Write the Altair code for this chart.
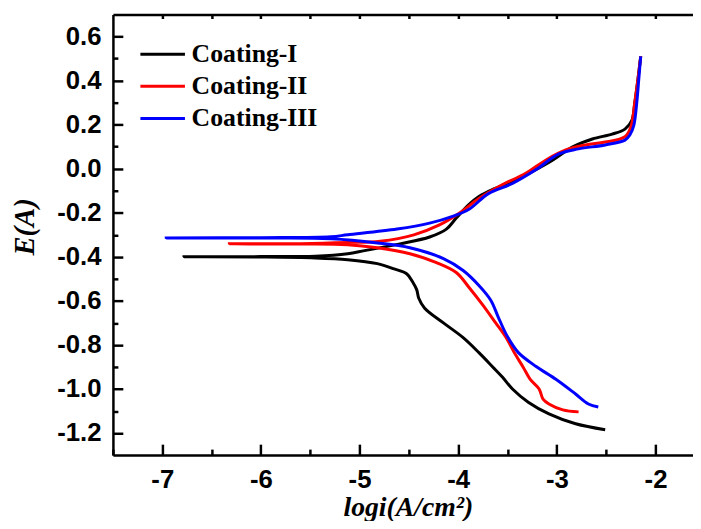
import altair as alt
import pandas as pd

coatings = ["Coating-I", "Coating-II", "Coating-III"]
colors = ["#000000", "#ff0000", "#0000ff"]

# log i values (cathodic end -> corrosion point -> anodic end)
c1_x = [-2.51, -2.81, -3.08, -3.29, -3.45, -3.55, -3.65, -3.79, -3.95, -4.15, -4.34, -4.40, -4.42, -4.46, -4.52, -4.65, -4.82, -5.12, -5.45, -6.0, -6.78,
        -6.0, -5.45, -5.12, -4.95, -4.59, -4.29, -4.12, -4.02, -3.89, -3.79, -3.65, -3.45, -3.25, -3.04, -2.84, -2.64, -2.44, -2.31, -2.24, -2.21, -2.18, -2.15]
c1_y = [-1.185, -1.158, -1.113, -1.06, -1.00, -0.947, -0.90, -0.835, -0.767, -0.70, -0.633, -0.588, -0.55, -0.515, -0.478, -0.455, -0.431, -0.413, -0.405, -0.401, -0.400,
        -0.399, -0.397, -0.386, -0.372, -0.341, -0.31, -0.274, -0.224, -0.162, -0.126, -0.094, -0.058, -0.013, 0.04, 0.099, 0.135, 0.157, 0.18, 0.22, 0.30, 0.40, 0.51]

c2_x = [-2.78, -2.94, -3.08, -3.14, -3.18, -3.27, -3.34, -3.42, -3.52, -3.62, -3.75, -3.89, -4.02, -4.22, -4.49, -4.82, -5.12, -5.6, -6.32,
        -5.6, -5.12, -4.79, -4.45, -4.19, -3.99, -3.79, -3.55, -3.32, -3.11, -2.91, -2.71, -2.51, -2.31, -2.25, -2.21, -2.18, -2.15]
c2_y = [-1.104, -1.095, -1.068, -1.046, -1.0, -0.956, -0.902, -0.844, -0.763, -0.70, -0.619, -0.539, -0.471, -0.426, -0.386, -0.359, -0.345, -0.342, -0.341,
        -0.340, -0.335, -0.329, -0.30, -0.255, -0.202, -0.135, -0.072, -0.022, 0.04, 0.085, 0.108, 0.121, 0.145, 0.19, 0.30, 0.40, 0.51]

c3_x = [-2.58, -2.68, -2.81, -3.01, -3.21, -3.39, -3.50, -3.59, -3.67, -3.79, -3.95, -4.15, -4.49, -4.82, -5.29, -6.0, -6.96,
        -6.0, -5.29, -5.12, -4.62, -4.29, -4.05, -3.89, -3.69, -3.45, -3.21, -2.98, -2.78, -2.51, -2.31, -2.26, -2.22, -2.19, -2.17, -2.15]
c3_y = [-1.082, -1.068, -1.023, -0.956, -0.898, -0.835, -0.763, -0.678, -0.597, -0.53, -0.462, -0.408, -0.359, -0.337, -0.318, -0.315, -0.314,
        -0.313, -0.309, -0.30, -0.274, -0.247, -0.215, -0.184, -0.112, -0.067, -0.004, 0.067, 0.09, 0.108, 0.13, 0.153, 0.197, 0.30, 0.404, 0.51]

x_major = [-7, -6, -5, -4, -3, -2]
x_minor = [-7.5, -6.5, -5.5, -4.5, -3.5, -2.5]
x_top = [-7, -6.5, -6, -5.5, -5, -4.5, -4, -3.5, -3, -2.5, -2]
y_major = [-1.2, -1.0, -0.8, -0.6, -0.4, -0.2, 0.0, 0.2, 0.4, 0.6]
y_minor = [-1.1, -0.9, -0.7, -0.5, -0.3, -0.1, 0.1, 0.3, 0.5]

rows = []
for name, xs, ys in [(coatings[0], c1_x, c1_y), (coatings[1], c2_x, c2_y), (coatings[2], c3_x, c3_y)]:
    for i, (a, b) in enumerate(zip(xs, ys)):
        rows.append({"coating": name, "x": a, "y": b, "idx": i})
df = pd.DataFrame(rows)

xscale = alt.Scale(domain=[-7.5, -1.62], nice=False, zero=False)
yscale = alt.Scale(domain=[-1.3, 0.7], nice=False, zero=False)

W, H = 586, 445
BLACK = "black"
DW = 2.5

lines = alt.Chart(df).mark_line(strokeWidth=3, interpolate="catmull-rom").encode(
    x=alt.X("x:Q", scale=xscale, axis=alt.Axis(
        orient="bottom", values=x_major,
        labelExpr="datum.value < 0 ? '-' + format(-datum.value, 'd') : format(datum.value, 'd')",
        labelFont="Liberation Sans", labelFontWeight="bold", labelFontSize=26, labelColor=BLACK,
        labelPadding=12, ticks=False, tickSize=0, grid=False,
        domainColor=BLACK, domainWidth=DW,
        title="logi(A/cm²)", titleFont="Liberation Serif", titleFontStyle="italic",
        titleFontWeight="bold", titleFontSize=28, titleColor=BLACK,
        titleX=298, titleY=61, titleBaseline="alphabetic", titleAlign="center")),
    y=alt.Y("y:Q", scale=yscale, axis=alt.Axis(
        orient="left", values=y_major,
        labelExpr="datum.value < 0 ? '-' + format(-datum.value, '.1f') : format(datum.value, '.1f')",
        labelFont="Liberation Sans", labelFontWeight="bold", labelFontSize=26, labelColor=BLACK,
        labelPadding=12, ticks=False, tickSize=0, grid=False,
        domainColor=BLACK, domainWidth=DW,
        title="E(A)", titleFont="Liberation Serif", titleFontStyle="italic",
        titleFontWeight="bold", titleFontSize=29, titleColor=BLACK,
        titleX=-89, titleY=214, titleAngle=270, titleBaseline="middle", titleAlign="center")),
    color=alt.Color("coating:N", scale=alt.Scale(domain=coatings, range=colors), legend=alt.Legend(
        orient="none", legendX=37.25, legendY=27, title=None, padding=0,
        symbolType="M-2,0H2", symbolSize=506.25, symbolStrokeWidth=3,
        labelFont="Liberation Serif", labelFontWeight="bold", labelFontSize=26, labelColor=BLACK,
        labelOffset=16.25, rowPadding=6.5, labelLimit=300)),
    order="idx:Q",
)


def tick_layer(xvals, xsize, yvals, ysize, xorient="bottom"):
    enc = {}
    if xvals is not None:
        enc["x"] = alt.X("x:Q", scale=xscale, axis=alt.Axis(
            orient=xorient, values=xvals, labels=False, domain=False, grid=False, title=None,
            ticks=True, tickSize=xsize, offset=-xsize, tickColor=BLACK, tickWidth=DW))
    if yvals is not None:
        enc["y"] = alt.Y("y:Q", scale=yscale, axis=alt.Axis(
            orient="left", values=yvals, labels=False, domain=False, grid=False, title=None,
            ticks=True, tickSize=ysize, offset=-ysize, tickColor=BLACK, tickWidth=DW))
    else:
        enc["y"] = alt.Y("y:Q", scale=yscale, axis=None)
    return alt.Chart(df).mark_point(opacity=0).encode(**enc)


major = tick_layer(x_major, 11, y_major, 10)
minor = tick_layer(x_minor, 6, y_minor, 5)
top_ticks = tick_layer(x_top, 4, None, 0, xorient="top")
top_frame = alt.Chart(df).mark_point(opacity=0).encode(
    x=alt.X("x:Q", scale=xscale, axis=alt.Axis(
        orient="top", labels=False, ticks=False, grid=False, title=None,
        domain=True, domainColor=BLACK, domainWidth=DW)),
    y=alt.Y("y:Q", scale=yscale, axis=None),
)

chart = alt.layer(major, minor, top_ticks, top_frame, lines).resolve_scale(
    x="independent", y="independent"
).properties(
    width=W, height=H,
    padding={"left": 106, "top": 4, "right": 0, "bottom": 64},
    autosize=alt.AutoSizeParams(type="none"),
).configure_view(stroke=None).configure(background="white")

chart.save("out.html", embed_options={"renderer": "svg", "actions": False})
